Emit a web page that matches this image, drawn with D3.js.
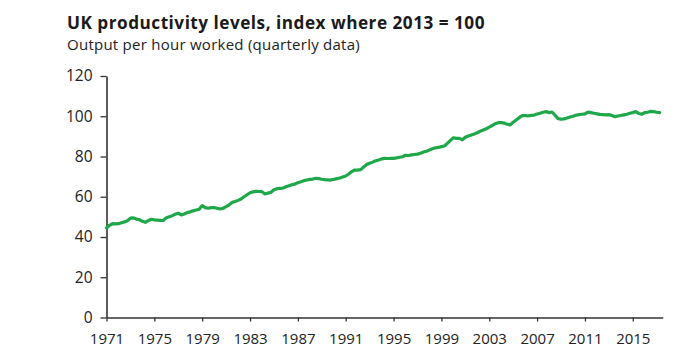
<!DOCTYPE html>
<html>
<head>
<meta charset="utf-8">
<script src="https://cdn.jsdelivr.net/npm/d3@7"></script>
<style>
  html, body { margin: 0; padding: 0; background: #fff; }
  svg { display: block; }
</style>
</head>
<body>
<svg id="chart" width="693" height="356"></svg>
<script>
// ---- Data (quarterly, 1971 Q1 .. 2017 Q2) ----
const startYear = 1971;
const productivity = [
  44.5, 45.8, 46.6, 46.5,   // 1971
  46.6, 47.1, 47.5, 48.1,   // 1972
  49.4, 49.5, 48.9, 48.6,   // 1973
  47.8, 47.3, 48.2, 48.8,   // 1974
  48.5, 48.4, 48.3, 48.2,   // 1975
  49.6, 50.1, 50.6, 51.3,   // 1976
  51.8, 51.0, 51.4, 52.1,   // 1977
  52.5, 53.0, 53.4, 53.8,   // 1978
  55.6, 54.6, 54.3, 54.6,   // 1979
  54.6, 54.3, 53.9, 54.3,   // 1980
  55.1, 56.0, 57.2, 57.6,   // 1981
  58.2, 58.9, 60.0, 61.0,   // 1982
  62.0, 62.4, 62.7, 62.6,   // 1983
  62.5, 61.4, 61.8, 62.2,   // 1984
  63.5, 64.0, 64.2, 64.3,   // 1985
  65.0, 65.5, 66.0, 66.3,   // 1986
  67.0, 67.5, 68.0, 68.3,   // 1987
  68.6, 68.8, 69.2, 69.0,   // 1988
  68.7, 68.5, 68.4, 68.3,   // 1989
  68.6, 69.0, 69.3, 69.8,   // 1990
  70.3, 71.3, 72.5, 73.3,   // 1991
  73.2, 73.5, 74.8, 76.0,   // 1992
  76.6, 77.2, 77.9, 78.3,   // 1993
  78.8, 79.1, 79.0, 79.1,   // 1994
  79.1, 79.3, 79.6, 79.9,   // 1995
  80.6, 80.5, 80.8, 81.0,   // 1996
  81.2, 81.6, 82.2, 82.6,   // 1997
  83.2, 83.8, 84.3, 84.5,   // 1998
  84.9, 85.2, 86.5, 88.0,   // 1999
  89.3, 89.0, 89.0, 88.3,   // 2000
  89.6, 90.2, 90.7, 91.2,   // 2001
  91.8, 92.6, 93.2, 93.8,   // 2002
  94.6, 95.4, 96.3, 96.8,   // 2003
  96.8, 96.6, 96.0, 95.7,   // 2004
  97.0, 98.1, 99.3, 100.3,  // 2005
  100.3, 100.2, 100.4, 100.6, // 2006
  101.1, 101.5, 102.0, 102.3, // 2007
  101.8, 102.1, 100.5, 98.8,  // 2008
  98.6, 98.7, 99.1, 99.6,   // 2009
  100.0, 100.5, 100.8, 101.0, // 2010
  101.2, 102.1, 101.8, 101.5, // 2011
  101.2, 100.9, 100.8, 100.7, // 2012
  100.8, 100.4, 99.8, 100.1,  // 2013
  100.4, 100.7, 101.0, 101.5, // 2014
  101.8, 102.3, 101.4, 101.0, // 2015
  101.8, 102.0, 102.4, 102.3, // 2016
  102.0, 101.8              // 2017
];
const xTickYears = [1971, 1975, 1979, 1983, 1987, 1991, 1995, 1999, 2003, 2007, 2011, 2015];
const yTickValues = [0, 20, 40, 60, 80, 100, 120];
const titleText = "UK productivity levels, index where 2013 = 100";
const subtitleText = "Output per hour worked (quarterly data)";

const series = productivity.map((v, i) => ({ t: startYear + i / 4, v }));

// ---- Layout ----
const svg = d3.select("#chart");
const font = "'Open Sans', 'DejaVu Sans', sans-serif";
const plotLeft = 106.5, plotRight = 662.7, plotTop = 76, plotBottom = 317.5;

const x = d3.scaleLinear().domain([1971, 2017.5]).range([plotLeft, plotRight]);
const y = d3.scaleLinear().domain([0, 120]).range([plotBottom, plotTop]);

// fit a text to a target width with letter-spacing, keeping the font size
function fitSpacing(sel, targetWidth) {
  const w = sel.node().getComputedTextLength();
  const n = sel.text().length;
  if (w > 0 && n > 1) sel.attr("letter-spacing", ((targetWidth - w) / n).toFixed(3));
}

// Title
const title = svg.append("text")
  .attr("x", 67).attr("y", 29)
  .attr("font-family", font).attr("font-weight", 700).attr("font-size", 17.2)
  .attr("fill", "#1a1a1a")
  .text(titleText);
fitSpacing(title, 418);
const subtitle = svg.append("text")
  .attr("x", 67).attr("y", 50)
  .attr("font-family", font).attr("font-size", 15)
  .attr("fill", "#222")
  .text(subtitleText);
fitSpacing(subtitle, 293);

// Y axis
const yAxis = svg.append("g")
  .attr("transform", `translate(${plotLeft},0)`)
  .call(d3.axisLeft(y).tickValues(yTickValues).tickSize(6).tickPadding(8).tickSizeOuter(0));
yAxis.select(".domain").attr("stroke", "#333").attr("stroke-width", 1.6);
yAxis.selectAll(".tick line").attr("stroke", "#333").attr("stroke-width", 1.3);
yAxis.selectAll(".tick text")
  .attr("font-family", font).attr("font-size", 15.5).attr("fill", "#222");

// X axis
const xAxis = svg.append("g")
  .attr("transform", `translate(0,${plotBottom})`)
  .call(d3.axisBottom(x).tickValues(xTickYears).tickFormat(d3.format("d"))
        .tickSize(4).tickPadding(12).tickSizeOuter(0));
xAxis.select(".domain").attr("stroke", "#333").attr("stroke-width", 1.6);
xAxis.selectAll(".tick line").attr("stroke", "#333").attr("stroke-width", 1.3);
xAxis.selectAll(".tick text")
  .attr("font-family", font).attr("font-size", 15).attr("fill", "#222");

// Line
const line = d3.line().x(d => x(d.t)).y(d => y(d.v));
svg.append("path")
  .datum(series)
  .attr("fill", "none")
  .attr("stroke", "#1fa84a")
  .attr("stroke-width", 3.2)
  .attr("stroke-linejoin", "round")
  .attr("stroke-linecap", "round")
  .attr("d", line);
</script>
</body>
</html>
